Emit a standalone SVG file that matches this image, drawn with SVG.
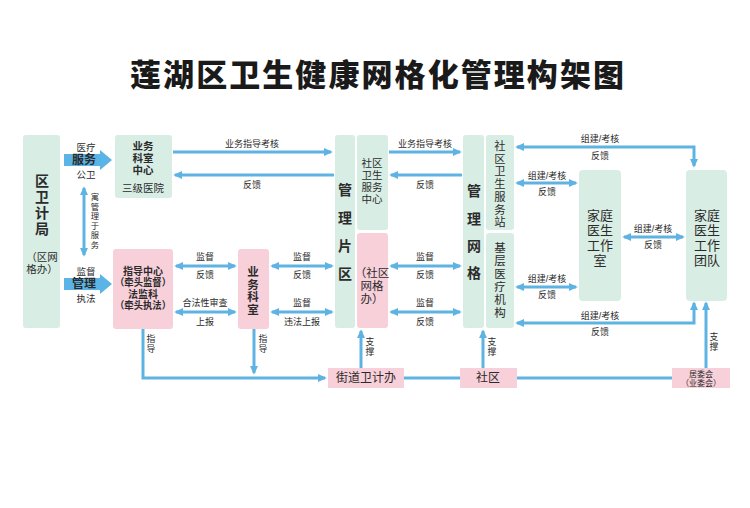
<svg xmlns="http://www.w3.org/2000/svg" width="750" height="508" viewBox="0 0 750 508">
<defs>
<style>
.g{fill:#d8ede3}
.p{fill:#f8d0da}
.t{font-family:"Liberation Sans","Noto Sans CJK SC",sans-serif;fill:#2b2b2b;text-anchor:middle;dominant-baseline:central}
.s{font-size:9px}
.v{font-size:8.8px}
.l{font-size:9.5px}
.m{font-size:12px}
.b{font-weight:bold}
.c{stroke:#5fb3e3;stroke-width:3;fill:none}
.ba{fill:#5ab4e5}
</style>
<marker id="a" viewBox="0 0 10 10" refX="8" refY="5" markerWidth="9" markerHeight="9" markerUnits="userSpaceOnUse" orient="auto-start-reverse"><path d="M0,0.5 L10,5 L0,9.5 z" fill="#5fb3e3"/></marker>
</defs>
<rect width="750" height="508" fill="#ffffff"/>
<text id="title" x="130" y="72" class="t" style="text-anchor:start;font-weight:900;fill:#1a1a1a;font-family:'Noto Sans CJK SC',sans-serif" font-size="31" textLength="494" lengthAdjust="spacing">莲湖区卫生健康网格化管理构架图</text>

<g id="n-qwjj">
<rect class="g" x="23" y="135" width="37" height="193" rx="3"/>
<text class="t b" font-size="14"><tspan x="42" y="181">区</tspan><tspan x="42" y="197">卫</tspan><tspan x="42" y="213">计</tspan><tspan x="42" y="229">局</tspan></text>
<text class="t" font-size="10.5"><tspan x="42" y="257">（区网</tspan><tspan x="42" y="269">格办）</tspan></text>
</g>
<g id="n-ywks-center">
<rect class="g" x="115" y="135" width="57" height="63" rx="3"/>
<text class="t b" font-size="10.5"><tspan x="143" y="146">业务</tspan><tspan x="143" y="158">科室</tspan><tspan x="143" y="170">中心</tspan></text>
<text class="t" font-size="10.5" x="143" y="188">三级医院</text>
</g>
<g id="n-zdzx">
<rect class="p" x="113" y="249" width="60" height="80" rx="3"/>
<text class="t b" font-size="10"><tspan x="143" y="271">指导中心</tspan><tspan x="143" y="282.3" textLength="56" lengthAdjust="spacingAndGlyphs">（牵头监督）</tspan><tspan x="143" y="293.6">法监科</tspan><tspan x="143" y="304.9" textLength="56" lengthAdjust="spacingAndGlyphs">（牵头执法）</tspan></text>
</g>
<g id="n-ywks">
<rect class="p" x="238" y="249" width="31" height="80" rx="3"/>
<text class="t b" font-size="11.5"><tspan x="253" y="272">业</tspan><tspan x="253" y="284.5">务</tspan><tspan x="253" y="297">科</tspan><tspan x="253" y="309.5">室</tspan></text>
</g>
<g id="n-glpq">
<rect class="g" x="335" y="135" width="20" height="193" rx="3"/>
<text class="t b" font-size="14"><tspan x="345" y="190">管</tspan><tspan x="345" y="218">理</tspan><tspan x="345" y="246">片</tspan><tspan x="345" y="274">区</tspan></text>
</g>
<g id="n-sqwsfwzx">
<rect class="g" x="357" y="135" width="31" height="95" rx="3"/>
<text class="t" font-size="10.5"><tspan x="372" y="163">社区</tspan><tspan x="372" y="175">卫生</tspan><tspan x="372" y="187">服务</tspan><tspan x="372" y="199">中心</tspan></text>
</g>
<g id="n-sqwgb">
<rect class="p" x="357" y="233" width="31" height="95" rx="3"/>
<text class="t" font-size="11.5"><tspan x="372" y="273">（社区</tspan><tspan x="372" y="286">网格</tspan><tspan x="372" y="299">办）</tspan></text>
</g>
<g id="n-glwg">
<rect class="g" x="463" y="135" width="21" height="193" rx="3"/>
<text class="t b" font-size="14"><tspan x="474" y="191">管</tspan><tspan x="474" y="219">理</tspan><tspan x="474" y="246">网</tspan><tspan x="474" y="273">格</tspan></text>
</g>
<g id="n-sqwsfwz">
<rect class="g" x="486" y="135" width="28" height="95" rx="3"/>
<text class="t" font-size="11.3"><tspan x="500" y="146">社</tspan><tspan x="500" y="158.7">区</tspan><tspan x="500" y="171.4">卫</tspan><tspan x="500" y="184.1">生</tspan><tspan x="500" y="196.8">服</tspan><tspan x="500" y="209.5">务</tspan><tspan x="500" y="222.2">站</tspan></text>
</g>
<g id="n-jcyljg">
<rect class="g" x="486" y="233" width="28" height="95" rx="3"/>
<text class="t" font-size="11.5"><tspan x="500" y="248">基</tspan><tspan x="500" y="261">层</tspan><tspan x="500" y="274">医</tspan><tspan x="500" y="287">疗</tspan><tspan x="500" y="300">机</tspan><tspan x="500" y="313">构</tspan></text>
</g>
<g id="n-jtysgzs">
<rect class="g" x="579" y="170" width="42" height="131" rx="4"/>
<text class="t" font-size="13"><tspan x="600" y="215">家庭</tspan><tspan x="600" y="230">医生</tspan><tspan x="600" y="245">工作</tspan><tspan x="600" y="260">室</tspan></text>
</g>
<g id="n-jtysgztd">
<rect class="g" x="686" y="170" width="41" height="131" rx="4"/>
<text class="t" font-size="13"><tspan x="707" y="215">家庭</tspan><tspan x="707" y="230">医生</tspan><tspan x="707" y="245">工作</tspan><tspan x="707" y="260">团队</tspan></text>
</g>
<g id="n-jdwjb">
<rect class="p" x="328" y="368" width="76" height="20"/>
<text class="t m" x="366" y="378">街道卫计办</text>
</g>
<g id="n-sq">
<rect class="p" x="460" y="368" width="57" height="20"/>
<text class="t m" x="488" y="378">社区</text>
</g>
<g id="n-jwh">
<rect class="p" x="672" y="368" width="58" height="20"/>
<text class="t" font-size="8"><tspan x="701" y="373.5">居委会</tspan><tspan x="701" y="383">（业委会）</tspan></text>
</g>

<g id="connectors">
<polygon class="ba" points="64,154 100,154 100,150 112,160 100,170 100,166 64,166"/>
<polygon class="ba" points="64,278 100,278 100,274 112,284 100,294 100,290 64,290"/>
<line class="c" x1="84" y1="188" x2="84" y2="255" marker-start="url(#a)" marker-end="url(#a)"/>
<line class="c" x1="173" y1="152" x2="331" y2="152" marker-end="url(#a)"/>
<line class="c" x1="334" y1="175" x2="175" y2="175" marker-end="url(#a)"/>
<line class="c" x1="389" y1="152" x2="460" y2="152" marker-end="url(#a)"/>
<line class="c" x1="462" y1="175" x2="391" y2="175" marker-end="url(#a)"/>
<path class="c" d="M517,147 L694,147 L694,166" marker-start="url(#a)" marker-end="url(#a)"/>
<line class="c" x1="517" y1="183" x2="576" y2="183" marker-start="url(#a)" marker-end="url(#a)"/>
<line class="c" x1="624" y1="237" x2="683" y2="237" marker-start="url(#a)" marker-end="url(#a)"/>
<line class="c" x1="517" y1="287" x2="576" y2="287" marker-start="url(#a)" marker-end="url(#a)"/>
<path class="c" d="M517,323 L694,323 L694,303" marker-start="url(#a)" marker-end="url(#a)"/>
<line class="c" x1="176" y1="266" x2="235" y2="266" marker-start="url(#a)" marker-end="url(#a)"/>
<line class="c" x1="176" y1="312" x2="235" y2="312" marker-start="url(#a)" marker-end="url(#a)"/>
<line class="c" x1="272" y1="266" x2="332" y2="266" marker-start="url(#a)" marker-end="url(#a)"/>
<line class="c" x1="272" y1="312" x2="332" y2="312" marker-start="url(#a)" marker-end="url(#a)"/>
<line class="c" x1="391" y1="266" x2="460" y2="266" marker-start="url(#a)" marker-end="url(#a)"/>
<line class="c" x1="391" y1="312" x2="460" y2="312" marker-start="url(#a)" marker-end="url(#a)"/>
<path class="c" d="M143,329 L143,378 L325,378" marker-end="url(#a)"/>
<line class="c" x1="254" y1="329" x2="254" y2="373" marker-end="url(#a)"/>
<line class="c" x1="404" y1="378" x2="460" y2="378"/>
<line class="c" x1="517" y1="378" x2="672" y2="378"/>
<line class="c" x1="361" y1="368" x2="361" y2="331" marker-end="url(#a)"/>
<line class="c" x1="483" y1="368" x2="483" y2="331" marker-end="url(#a)"/>
<line class="c" x1="706" y1="368" x2="706" y2="303" marker-end="url(#a)"/>
</g>

<g id="labels">
<text class="t l" x="86" y="147">医疗</text>
<text class="t m b" x="84" y="160">服务</text>
<text class="t l" x="86" y="174">公卫</text>
<text class="t l" x="86" y="271">监督</text>
<text class="t m b" x="84" y="284">管理</text>
<text class="t l" x="86" y="298">执法</text>
<text class="t" font-size="8.3"><tspan x="95" y="197">寓</tspan><tspan x="95" y="206.5">管</tspan><tspan x="95" y="216">理</tspan><tspan x="95" y="225.5">于</tspan><tspan x="95" y="235">服</tspan><tspan x="95" y="244.5">务</tspan></text>
<text class="t s" x="252" y="144">业务指导考核</text>
<text class="t s" x="252" y="185">反馈</text>
<text class="t s" x="425" y="144">业务指导考核</text>
<text class="t s" x="425" y="185">反馈</text>
<text class="t s" x="600" y="139">组建/考核</text>
<text class="t s" x="600" y="156">反馈</text>
<text class="t s" x="547" y="176">组建/考核</text>
<text class="t s" x="547" y="192">反馈</text>
<text class="t s" x="653" y="229">组建/考核</text>
<text class="t s" x="653" y="245">反馈</text>
<text class="t s" x="547" y="279">组建/考核</text>
<text class="t s" x="547" y="295">反馈</text>
<text class="t s" x="600" y="316">组建/考核</text>
<text class="t s" x="600" y="332">反馈</text>
<text class="t s" x="205" y="257">监督</text>
<text class="t s" x="205" y="275">反馈</text>
<text class="t s" x="205" y="303">合法性审查</text>
<text class="t s" x="205" y="322">上报</text>
<text class="t s" x="302" y="257">监督</text>
<text class="t s" x="302" y="275">反馈</text>
<text class="t s" x="302" y="303">监督</text>
<text class="t s" x="302" y="322">违法上报</text>
<text class="t s" x="425" y="257">监督</text>
<text class="t s" x="425" y="275">反馈</text>
<text class="t s" x="425" y="303">监督</text>
<text class="t s" x="425" y="322">反馈</text>
<text class="t v"><tspan x="151" y="339">指</tspan><tspan x="151" y="349">导</tspan></text>
<text class="t v"><tspan x="263" y="339">指</tspan><tspan x="263" y="349">导</tspan></text>
<text class="t v"><tspan x="370" y="342">支</tspan><tspan x="370" y="352">撑</tspan></text>
<text class="t v"><tspan x="492" y="342">支</tspan><tspan x="492" y="352">撑</tspan></text>
<text class="t v"><tspan x="714" y="337">支</tspan><tspan x="714" y="347">撑</tspan></text>
</g>
</svg>
